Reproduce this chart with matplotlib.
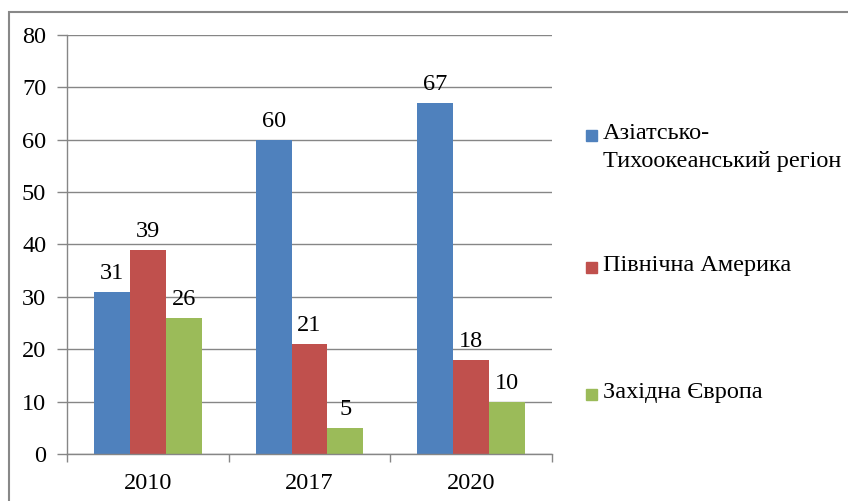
import numpy as np
import matplotlib
matplotlib.use("Agg")
import matplotlib.pyplot as plt
from matplotlib.patches import Rectangle

plt.rcParams["font.family"] = "serif"
plt.rcParams["font.serif"] = ["Liberation Serif", "DejaVu Serif"]

years = ["2010", "2017", "2020"]
regions = ["Азіатсько-\nТихоокеанський регіон", "Північна Америка", "Західна Європа"]
asia_pacific = [31, 60, 67]
north_america = [39, 21, 18]
western_europe = [26, 5, 10]
yticks = [0, 10, 20, 30, 40, 50, 60, 70, 80]

series = [asia_pacific, north_america, western_europe]
colors = ["#4F81BD", "#C0504D", "#9BBB59"]
grid_color = "#868686"
font_size = 17.5

fig = plt.figure(figsize=(8.48, 5.01), dpi=100)
ax = fig.add_axes([67 / 848, 47 / 501, 485 / 848, 419 / 501])

x = np.arange(len(years))
width = 0.222
for i, (vals, col) in enumerate(zip(series, colors)):
    pos = x + (i - 1) * width
    ax.bar(pos, vals, width=width, color=col, zorder=2)
    for p, v in zip(pos, vals):
        ax.annotate(str(v), xy=(p, v), xytext=(0, 5.5), textcoords="offset points",
                    ha="center", va="bottom", fontsize=font_size)

ax.set_xlim(-0.5, len(years) - 0.5)
ax.set_ylim(0, 80)
ax.set_yticks(yticks)
ax.set_xticks(x)
ax.set_xticklabels(years)
ax.set_xticks(np.arange(len(years) + 1) - 0.5, minor=True)

ax.grid(axis="y", color=grid_color, linewidth=1, zorder=0)
ax.tick_params(axis="y", direction="out", length=7, width=1, color=grid_color,
               labelsize=font_size, pad=8)
ax.tick_params(axis="x", which="major", length=0, labelsize=font_size, pad=14)
ax.tick_params(axis="x", which="minor", direction="out", length=6, width=1, color=grid_color)

for side in ["top", "right"]:
    ax.spines[side].set_visible(False)
for side in ["left", "bottom"]:
    ax.spines[side].set_color(grid_color)
    ax.spines[side].set_linewidth(1)

# legend drawn by hand: the marker sits on the first text line
legend_y = [135, 267, 394]
for label, col, ly in zip(regions, colors, legend_y):
    fy = 1 - ly / 501
    fig.add_artist(Rectangle((586 / 848, fy - 5.5 / 501), 11 / 848, 11 / 501,
                             transform=fig.transFigure, color=col))
    fig.text(603 / 848, fy + 12 / 501, label, fontsize=font_size, va="top", ha="left",
             linespacing=1.45)

# outer chart frame
fig.add_artist(Rectangle((9 / 848, -0.1), 1.0, 1 - 12 / 501 + 0.1,
                         transform=fig.transFigure, fill=False,
                         edgecolor="#888888", linewidth=1.5))

fig.savefig("out.png", dpi=100)
